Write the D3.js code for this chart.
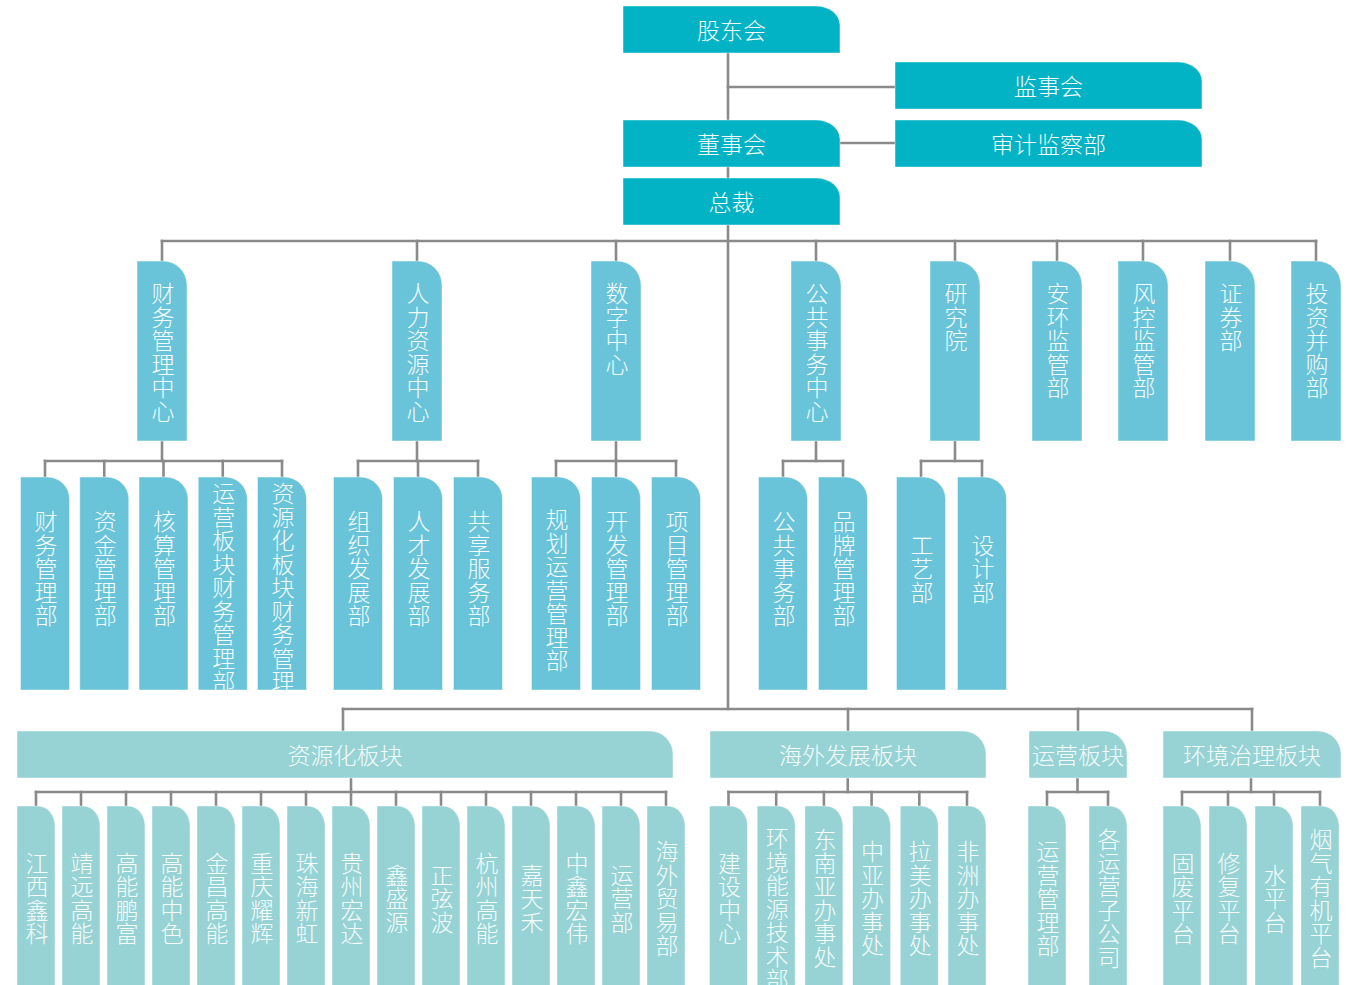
<!DOCTYPE html>
<html>
<head>
<meta charset="utf-8">
<script src="https://cdn.jsdelivr.net/npm/d3@7"></script>
<style>
	body { margin: 0; background: #fff; }
	svg { display: block; }
	text { font-family: "Noto Sans CJK SC", "Noto Sans", sans-serif; font-weight: 300; fill: #f4fbfc; }
</style>
</head>
<body>
<svg id="svg_elem"></svg>
<script>
//chart data
const topLeft = ['股东会', '董事会', '总裁'];
const topRight = ['监事会', '审计监察部'];
const centers = ['财务管理中心', '人力资源中心', '数字中心', '公共事务中心', '研究院', '安环监管部', '风控监管部', '证券部', '投资并购部'];
const centerDepts = [
	['财务管理部', '资金管理部', '核算管理部', '运营板块财务管理部', '资源化板块财务管理部'],
	['组织发展部', '人才发展部', '共享服务部'],
	['规划运营管理部', '开发管理部', '项目管理部'],
	['公共事务部', '品牌管理部'],
	['工艺部', '设计部'],
	[], [], [], []
];
const segments = ['资源化板块', '海外发展板块', '运营板块', '环境治理板块'];
const segmentUnits = [
	['江西鑫科', '靖远高能', '高能鹏富', '高能中色', '金昌高能', '重庆耀辉', '珠海新虹', '贵州宏达', '鑫盛源', '正弦波', '杭州高能', '嘉天禾', '中鑫宏伟', '运营部', '海外贸易部'],
	['建设中心', '环境能源技术部', '东南亚办事处', '中亚办事处', '拉美办事处', '非洲办事处'],
	['运营管理部', '各运营子公司'],
	['固废平台', '修复平台', '水平台', '烟气有机平台']
];

//define constants
const svgWidth = 1361;
const svgHeight = 985;
const lineColor = '#8a8a8a';
const lineWidth = 2.6;
const step = 23.5;
const fontSize = 23;
const colTop = '#02b3c5';
const colMid = '#69c4d9';
const colLow = '#97d3d4';

//layout scales
const topY = d3.scaleOrdinal().domain(topLeft.concat(topRight)).range([6, 120, 178, 62, 120]);
const topX = d3.scaleOrdinal().domain(['left', 'right']).range([[623, 840], [895, 1202]]);
const centerX = d3.scaleOrdinal().domain(centers).range([162, 417, 616, 816, 955, 1057, 1143, 1230, 1316]);
const deptRanges = [[45, 282], [358, 478], [556, 676], [783, 843], [921, 982]];
const segExtent = d3.scaleOrdinal().domain(segments).range([[17, 673], [710, 986], [1029, 1127], [1163, 1341]]);
const unitRanges = [[36, 666], [728.5, 967], [1047, 1108], [1182, 1320]];
const mainX = 728;

const l2 = {y: 261, h: 180, w: 50, r: 24};
const l3 = {y: 477, h: 213, w: 49, r: 22};
const l4 = {y: 731, h: 47, r: 23};
const l5 = {y: 806, h: 200, w: 38, rx: 17, ry: 20};
const topH = 47;

//svg
const svg = d3.select('#svg_elem')
	.attr('width', svgWidth)
	.attr('height', svgHeight);
const defs = svg.append('defs');
const gLines = svg.append('g').classed('lines', true);
const gBoxes = svg.append('g').classed('boxes', true);

//path with rounded top right corner
function boxPath(x, y, w, h, rx, ry){
	ry = ry || rx;
	return `M${x},${y}H${x + w - rx}A${rx},${ry} 0 0 1 ${x + w},${y + ry}V${y + h}H${x}Z`;
}

function line(x1, y1, x2, y2){
	gLines.append('line')
		.attr('x1', x1).attr('y1', y1)
		.attr('x2', x2).attr('y2', y2)
		.attr('stroke', lineColor)
		.attr('stroke-width', lineWidth)
		.attr('stroke-linecap', 'square');
}

//draw horizontal box
function hBox(label, x0, x1, y, h, rx, ry, fill){
	gBoxes.append('path')
		.attr('d', boxPath(x0, y, x1 - x0, h, rx, ry))
		.attr('fill', fill)
		.attr('stroke', 'rgba(255,255,255,0.45)')
		.attr('stroke-width', 1);
	gBoxes.append('text')
		.attr('x', (x0 + x1) / 2)
		.attr('y', y + h / 2 - 1)
		.attr('text-anchor', 'middle')
		.attr('dominant-baseline', 'central')
		.style('font-size', fontSize + 'px')
		.text(label);
}

//draw vertical box, chars stacked
var clipId = 0;
function vBox(label, cx, box, fill, startFn){
	let x = cx - box.w / 2;
	let d = boxPath(x, box.y, box.w, box.h, box.rx || box.r, box.ry || box.r);
	let id = 'clip' + (clipId++);
	defs.append('clipPath').attr('id', id)
		.append('path').attr('d', d);
	let g = gBoxes.append('g');
	g.append('path')
		.attr('d', d)
		.attr('fill', fill)
		.attr('stroke', 'rgba(255,255,255,0.45)')
		.attr('stroke-width', 1);
	let chars = Array.from(label);
	let start = startFn(chars.length * step);
	g.append('g')
		.attr('clip-path', `url(#${id})`)
		.selectAll('text')
		.data(chars)
		.enter()
		.append('text')
			.attr('x', cx + 1)
			.attr('y', (c, i) => start + step / 2 + i * step)
			.attr('text-anchor', 'middle')
			.attr('dominant-baseline', 'central')
			.style('font-size', fontSize + 'px')
			.text(c => c);
}

//top part lines
line(mainX, 30, mainX, 709);
line(mainX, 87, 895, 87);
line(840, 143, 895, 143);

//top boxes
topLeft.forEach(d => hBox(d, topX('left')[0], topX('left')[1], topY(d), topH, 24, 19, colTop));
topRight.forEach(d => hBox(d, topX('right')[0], topX('right')[1], topY(d), topH, 24, 19, colTop));

//level 2 lines
const barY2 = 241;
line(centerX(centers[0]), barY2, centerX(centers[centers.length - 1]), barY2);
centers.forEach(c => line(centerX(c), barY2, centerX(c), l2.y));

//level 2 boxes
centers.forEach(c => vBox(c, centerX(c), l2, colMid, h => l2.y + 19.5));

//level 3
const barY3 = 461;
centerDepts.forEach((depts, i) => {
	if(depts.length == 0) return;
	let xs = d3.scalePoint().domain(depts).range(deptRanges[i]);
	let px = centerX(centers[i]);
	line(px, l2.y + l2.h, px, barY3);
	line(xs(depts[0]), barY3, xs(depts[depts.length - 1]), barY3);
	depts.forEach(d => {
		line(xs(d), barY3, xs(d), l3.y);
		vBox(d, xs(d), l3, colMid, h => {
			let pref = 567 - h / 2;
			if(pref >= l3.y + 29.5) return pref;
			if(l3.y + 29.5 + h <= l3.y + l3.h) return l3.y + 29.5;
			return l3.y + 3.5;
		});
	});
});

//level 4
const barY4 = 709;
const segCenter = s => (segExtent(s)[0] + segExtent(s)[1]) / 2;
line(segCenter(segments[0]) - 2, barY4, segCenter(segments[segments.length - 1]), barY4);
segments.forEach(s => line(segCenter(s) - (s == segments[0] ? 2 : 0), barY4, segCenter(s) - (s == segments[0] ? 2 : 0), l4.y));

//level 5
const barY5 = 792;
segments.forEach((s, i) => {
	let units = segmentUnits[i];
	let xs = d3.scalePoint().domain(units).range(unitRanges[i]);
	let mid = (unitRanges[i][0] + unitRanges[i][1]) / 2;
	line(mid, l4.y + l4.h, mid, barY5);
	line(xs(units[0]), barY5, xs(units[units.length - 1]), barY5);
	units.forEach(u => {
		line(xs(u), barY5, xs(u), l5.y);
		vBox(u, xs(u), l5, colLow, h => Math.max(l5.y + 19.5, 897 - h / 2));
	});
});

//level 4 boxes on top of lines
segments.forEach(s => hBox(s, segExtent(s)[0], segExtent(s)[1], l4.y, l4.h, l4.r, l4.r, colLow));
</script>
</body>
</html>
